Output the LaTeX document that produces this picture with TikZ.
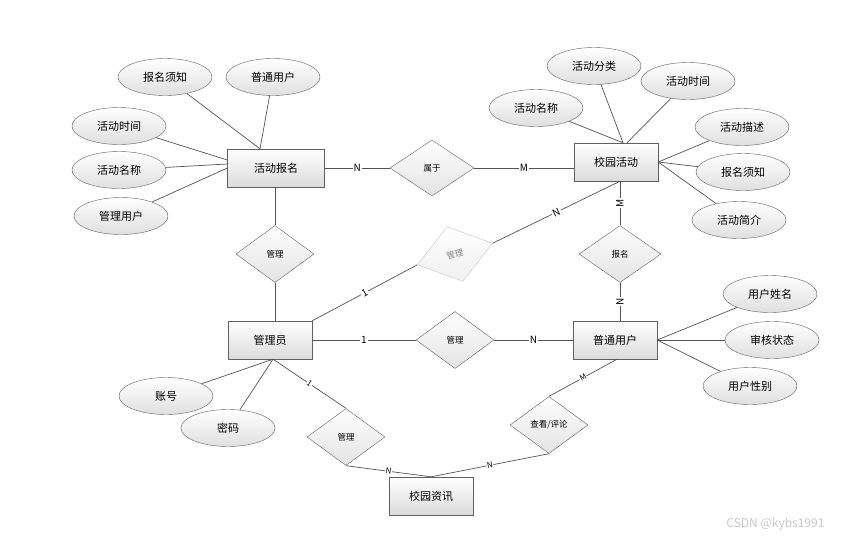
\documentclass[tikz,border=0pt]{standalone}
\usepackage{fontspec}
\setmainfont{Noto Sans CJK SC}
\usetikzlibrary{shapes.geometric}
\begin{document}
\begin{tikzpicture}[x=1pt,y=-1pt,
  ent/.style={draw=gray!75!black, top color=white, bottom color=gray!28, minimum width=84pt, minimum height=38pt, font=\fontsize{11}{13}\selectfont, inner sep=0pt},
  attr/.style={ellipse, draw=gray!75!black, top color=white, bottom color=gray!25, minimum width=94pt, minimum height=37pt, font=\fontsize{11}{13}\selectfont, inner sep=0pt},
  rel/.style={diamond, draw=gray!75!black, top color=white, bottom color=gray!22, minimum width=78pt, minimum height=57pt, font=\fontsize{8.5}{10}\selectfont, inner sep=0pt},
  ln/.style={draw=gray!65!black, line width=0.7pt},
  lab/.style={fill=white, inner sep=1pt, font=\fontsize{10}{12}\selectfont},
  labs/.style={fill=white, inner sep=0.5pt, font=\fontsize{8}{9}\selectfont, sloped}
]
\useasboundingbox (0,0) rectangle (846,539);

% entities
\node[ent, minimum width=97pt] (hdbm) at (276,168) {活动报名};
\node[ent] (xyhd) at (616,162) {校园活动};
\node[ent] (gly) at (270,340) {管理员};
\node[ent] (ptyh) at (615,340) {普通用户};
\node[ent] (xyzx) at (431,496) {校园资讯};

% relationships
\node[rel, minimum width=84pt, minimum height=56pt] (sy) at (432,168) {属于};
\node[rel] (gl1) at (275,254) {管理};
\node[rel, rotate=16, draw=gray!45, bottom color=gray!12, text=gray] (gl2) at (455,254) {管理};
\node[rel] (gl3) at (455,340) {管理};
\node[rel, minimum width=82pt] (bm) at (620,254) {报名};
\node[rel] (gl4) at (346,437) {管理};
\node[rel] (ckpl) at (549,425) {查看/评论};

% attributes of 活动报名
\node[attr] (a1) at (165,77) {报名须知};
\node[attr] (a2) at (273,77) {普通用户};
\node[attr] (a3) at (119,126) {活动时间};
\node[attr] (a4) at (119,170) {活动名称};
\node[attr] (a5) at (121,216) {管理用户};
% attributes of 校园活动
\node[attr] (b1) at (594,66) {活动分类};
\node[attr] (b2) at (688,81) {活动时间};
\node[attr] (b3) at (536,108) {活动名称};
\node[attr] (b4) at (742,127) {活动描述};
\node[attr] (b5) at (743,172) {报名须知};
\node[attr] (b6) at (739,220) {活动简介};
% attributes of 普通用户
\node[attr] (c1) at (770,294) {用户姓名};
\node[attr] (c2) at (772,340) {审核状态};
\node[attr] (c3) at (750,386) {用户性别};
% attributes of 管理员
\node[attr] (d2) at (228,428) {密码};
\node[attr] (d1) at (166,396) {账号};

% connection points
\coordinate (p1) at ([xshift=-16pt]hdbm.north);
\coordinate (p3) at ([yshift=8pt]hdbm.west);
\coordinate (p4) at ([yshift=4pt]hdbm.west);
\coordinate (q1) at ([xshift=7pt]xyhd.north);
\coordinate (q2) at ([xshift=11pt]xyhd.north);
\coordinate (qb) at (bm.north |- xyhd.south);
\coordinate (gb) at ([xshift=3pt]gly.south);
\coordinate (pb) at ([xshift=2pt]ptyh.south);

% attribute lines
\draw[ln] (a1) -- (p1);
\draw[ln] (a2) -- (p1);
\draw[ln] (a3) -- (p3);
\draw[ln] (a4) -- (p4);
\draw[ln] (a5) -- (hdbm.west);
\draw[ln] (b1) -- (q1);
\draw[ln] (b3) -- (q1);
\draw[ln] (b2) -- (q2);
\draw[ln] (b4) -- (xyhd.east);
\draw[ln] (b5) -- (xyhd.east);
\draw[ln] (b6) -- (xyhd.east);
\draw[ln] (c1) -- (ptyh.east);
\draw[ln] (c2) -- (ptyh.east);
\draw[ln] (c3) -- (ptyh.east);
\draw[ln] (d1) -- (gb);
\draw[ln] (d2) -- (gb);

% relationship lines
\draw[ln] (hdbm.east) -- node[lab]{N} (sy.west);
\draw[ln] (sy.east) -- node[lab]{M} (sy.east -| xyhd.west);
\draw[ln] (gl1.north |- hdbm.south) -- (gl1.north);
\draw[ln] (gl1.south) -- (gl1.south |- gly.north);
\draw[ln] (gly.north east) -- node[lab, sloped]{1} (gl2.west);
\draw[ln] (gl2.east) -- node[lab, sloped]{N} (qb);
\draw[ln] (qb) -- node[lab, rotate=90]{M} (bm.north);
\draw[ln] (bm.south) -- node[lab, rotate=90]{N} (bm.south |- ptyh.north);
\draw[ln] (gly.east) -- node[lab]{1} (gl3.west);
\draw[ln] (gl3.east) -- node[lab]{N} (ptyh.west);
\draw[ln] (gb) -- node[labs]{1} (gl4.north);
\draw[ln] (gl4.south) -- node[labs]{N} (xyzx.north);
\draw[ln] (xyzx.north) -- node[labs]{N} (ckpl.south);
\draw[ln] (ckpl.north) -- node[labs]{M} (pb);

% watermark
\node[anchor=east, text=gray!45, font=\fontsize{12}{14}\selectfont] (wm) at (828,524) {CSDN @kybs1991};
\end{tikzpicture}
\end{document}
